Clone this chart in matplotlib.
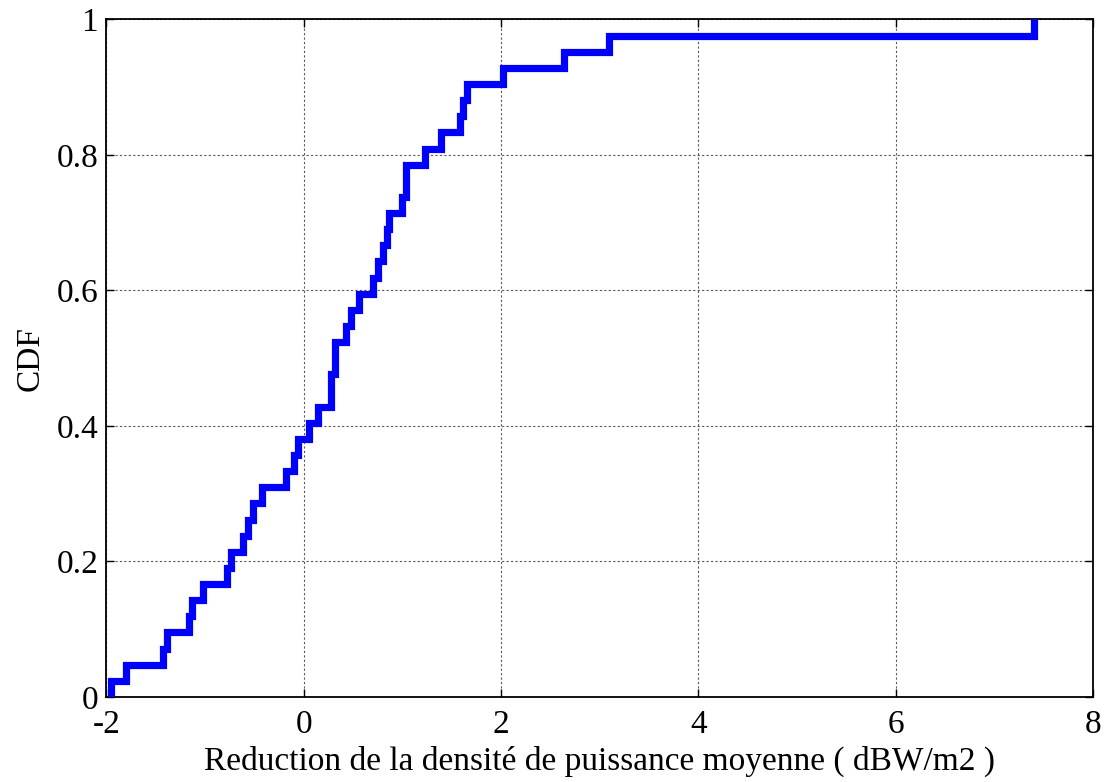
import matplotlib.pyplot as plt
import numpy as np

# reduction of mean power density per site (dBW/m2), sorted
reduction = [-1.957, -1.805, -1.424, -1.390, -1.161, -1.137, -1.019, -0.782,
             -0.739, -0.617, -0.562, -0.513, -0.422, -0.182, -0.101, -0.058,
             0.056, 0.142, 0.280, 0.280, 0.314, 0.314, 0.432, 0.483,
             0.555, 0.704, 0.752, 0.803, 0.843, 0.860, 0.999, 1.032,
             1.032, 1.230, 1.394, 1.579, 1.612, 1.653, 2.017, 2.637,
             3.097, 7.399]

xticks = [-2, 0, 2, 4, 6, 8]
yticks = [0, 0.2, 0.4, 0.6, 0.8, 1]

plt.rcParams['font.family'] = ['Liberation Serif', 'DejaVu Serif']
plt.rcParams['font.size'] = 24

x = np.sort(np.array(reduction))
cdf = np.arange(1, len(x) + 1) / len(x)

fig = plt.figure(figsize=(11.07, 7.82), dpi=100)
ax = fig.add_axes([0.0962, 0.1087, 0.8912, 0.8664])

ax.step(np.r_[x[0], x], np.r_[0, cdf], where='post', color='#0000ff',
        linewidth=5.2, solid_joinstyle='miter', solid_capstyle='butt', zorder=3)

ax.set_xlim(-2, 8)
ax.set_ylim(0, 1)
ax.set_xticks(xticks)
ax.set_xticklabels([str(t) for t in xticks])
ax.set_yticks(yticks)
ax.set_yticklabels(['0', '0.2', '0.4', '0.6', '0.8', '1'])

ax.grid(True, color='0.35', linestyle=(0, (2, 2)), linewidth=0.8)
ax.tick_params(direction='in', length=6, width=1, top=True, right=True,
               labelsize=24)
ax.tick_params(axis='x', pad=9)
ax.tick_params(axis='y', pad=6)
for s in ax.spines.values():
    s.set_linewidth(1.3)

ax.set_xlabel('Reduction de la densité de puissance moyenne ( dBW/m2 )',
              fontsize=24, labelpad=4)
ax.set_ylabel('CDF', fontsize=24, labelpad=8)

fig.savefig('out.png', dpi=100)
